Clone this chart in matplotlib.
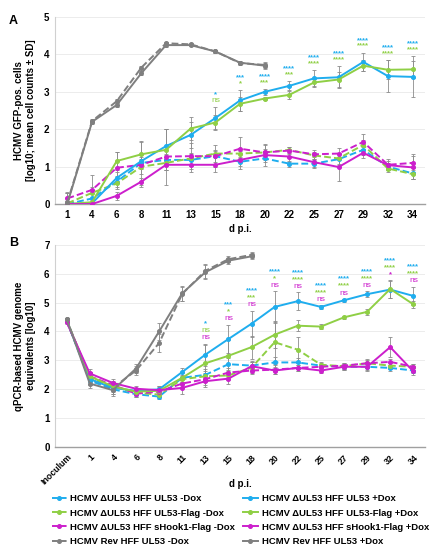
import numpy as np
import matplotlib
matplotlib.use('Agg')
import matplotlib.pyplot as plt
from matplotlib.lines import Line2D

plt.rcParams['font.family'] = ['Liberation Sans', 'DejaVu Sans']
plt.rcParams['font.weight'] = 'bold'

BLUE = '#1fadee'
GREEN = '#8fcf45'
MAGENTA = '#cc1fcc'
GRAY = '#7f7f7f'
ERR = '#8c8c8c'

# ---------------- panel A: GFP-positive cells ----------------
days_a = ['1', '4', '6', '8', '11', '13', '15', '18', '20', '22', '25', '27', '29', '32', '34']

a_blue_m = [0.00, 0.15, 0.60, 1.10, 1.18, 1.18, 1.28, 1.13, 1.22, 1.08, 1.08, 1.20, 1.45, 1.00, 0.82]
a_blue_m_sd = [0.05, 0.15, 0.15, 0.15, 0.15, 0.15, 0.15, 0.12, 0.10, 0.08, 0.10, 0.15, 0.15, 0.10, 0.15]
a_blue_p = [0.00, 0.02, 0.70, 1.15, 1.55, 1.85, 2.30, 2.77, 3.00, 3.16, 3.36, 3.39, 3.80, 3.42, 3.40]
a_blue_p_sd = [0.05, 0.10, 0.15, 0.15, 0.45, 0.35, 0.30, 0.28, 0.08, 0.12, 0.22, 0.30, 0.25, 0.42, 0.55]
a_green_m = [0.02, 0.30, 0.55, 1.00, 1.10, 1.22, 1.35, 1.35, 1.38, 1.45, 1.30, 1.22, 1.58, 0.95, 0.80]
a_green_m_sd = [0.05, 0.15, 0.15, 0.20, 0.20, 0.15, 0.10, 0.12, 0.10, 0.08, 0.10, 0.15, 0.12, 0.10, 0.12]
a_green_p = [0.00, 0.05, 1.15, 1.33, 1.45, 2.02, 2.18, 2.68, 2.82, 2.92, 3.25, 3.33, 3.70, 3.59, 3.60]
a_green_p_sd = [0.05, 0.10, 0.25, 0.35, 0.55, 0.32, 0.20, 0.18, 0.05, 0.10, 0.10, 0.20, 0.15, 0.25, 0.22]
a_mag_m = [0.15, 0.38, 0.97, 1.05, 1.27, 1.28, 1.28, 1.48, 1.38, 1.43, 1.33, 1.35, 1.66, 1.05, 1.10]
a_mag_m_sd = [0.15, 0.40, 0.42, 0.60, 0.75, 0.35, 0.30, 0.30, 0.20, 0.10, 0.12, 0.15, 0.20, 0.15, 0.25]
a_mag_p = [0.00, 0.00, 0.22, 0.60, 1.05, 1.05, 1.05, 1.18, 1.31, 1.27, 1.12, 0.99, 1.37, 1.04, 0.98]
a_mag_p_sd = [0.02, 0.02, 0.10, 0.10, 0.15, 0.20, 0.20, 0.25, 0.30, 0.15, 0.15, 0.38, 0.15, 0.12, 0.30]
a_gray_m = [0.05, 2.22, 2.75, 3.65, 4.30, 4.27, 4.08, 3.77, 3.72]
a_gray_p = [0.02, 2.20, 2.65, 3.50, 4.25, 4.25, 4.08, 3.78, 3.70]
a_gray_sd = [0.28, 0.05, 0.06, 0.05, 0.04, 0.03, 0.03, 0.04, 0.08]

# significance labels, from day 15 on (blue row, green row)
sig_a_blue = ['*', '***', '****', '****', '****', '****', '****', '****', '****']
sig_a_green = ['ns', '*', '***', '***', '****', '****', '****', '****', '****']

# ---------------- panel B: qPCR genome equivalents ----------------
days_b = ['Inoculum', '1', '4', '6', '8', '11', '13', '15', '18', '20', '22', '25', '27', '29', '32', '34']

b_blue_m = [4.38, 2.30, 2.00, 1.83, 1.75, 2.40, 2.50, 2.87, 2.82, 2.93, 2.93, 2.82, 2.78, 2.78, 2.74, 2.65]
b_blue_m_sd = [0.05, 0.15, 0.15, 0.10, 0.10, 0.15, 0.20, 0.20, 0.15, 0.20, 0.15, 0.10, 0.10, 0.10, 0.10, 0.08]
b_blue_p = [4.38, 2.35, 2.05, 1.95, 2.00, 2.60, 3.20, 3.74, 4.27, 4.85, 5.05, 4.85, 5.08, 5.29, 5.45, 5.23]
b_blue_p_sd = [0.05, 0.15, 0.15, 0.10, 0.10, 0.15, 0.38, 0.50, 0.45, 0.55, 0.30, 0.06, 0.05, 0.10, 0.30, 0.32]
b_green_m = [4.38, 2.40, 2.10, 1.88, 1.82, 2.35, 2.45, 2.48, 2.75, 3.63, 3.37, 2.85, 2.80, 2.90, 2.82, 2.78]
b_green_m_sd = [0.05, 0.15, 0.15, 0.10, 0.10, 0.15, 0.20, 0.15, 0.20, 0.75, 0.45, 0.10, 0.10, 0.10, 0.10, 0.10]
b_green_p = [4.38, 2.45, 2.10, 1.92, 1.95, 2.40, 2.90, 3.16, 3.46, 3.89, 4.20, 4.17, 4.49, 4.68, 5.47, 4.94]
b_green_p_sd = [0.05, 0.15, 0.15, 0.10, 0.15, 0.20, 0.65, 0.55, 0.40, 0.45, 0.20, 0.10, 0.06, 0.10, 0.30, 0.12]
b_mag_m = [4.35, 2.45, 2.15, 1.85, 1.92, 2.20, 2.35, 2.58, 2.65, 2.68, 2.74, 2.78, 2.82, 2.90, 2.95, 2.78]
b_mag_m_sd = [0.05, 0.15, 0.15, 0.10, 0.10, 0.15, 0.20, 0.15, 0.12, 0.15, 0.10, 0.10, 0.10, 0.15, 0.10, 0.10]
b_mag_p = [4.32, 2.55, 2.22, 2.02, 1.97, 2.05, 2.28, 2.37, 2.80, 2.65, 2.74, 2.65, 2.78, 2.78, 3.46, 2.62]
b_mag_p_sd = [0.05, 0.15, 0.15, 0.10, 0.10, 0.20, 0.20, 0.20, 0.15, 0.12, 0.10, 0.10, 0.10, 0.15, 0.35, 0.12]
b_gray_m = [4.42, 2.35, 2.05, 2.65, 3.60, 5.30, 6.10, 6.50, 6.65]
b_gray_p = [4.43, 2.20, 1.97, 2.72, 4.00, 5.32, 6.05, 6.45, 6.60]
b_gray_sd = [0.05, 0.15, 0.20, 0.15, 0.30, 0.25, 0.25, 0.10, 0.10]

# significance labels, from day 13 on (blue, green, magenta rows)
sig_b_blue = ['*', '***', '****', '****', '****', '****', '****', '****', '****', '****']
sig_b_green = ['ns', '*', '***', '*', '****', '****', '****', '****', '****', '****']
sig_b_mag = ['ns', 'ns', 'ns', 'ns', 'ns', 'ns', 'ns', 'ns', '*', 'ns']

legend_labels = [
    'HCMV \u0394UL53 HFF UL53 -Dox', 'HCMV \u0394UL53 HFF UL53-Flag -Dox',
    'HCMV \u0394UL53 HFF sHook1-Flag -Dox', 'HCMV Rev HFF UL53 -Dox',
    'HCMV \u0394UL53 HFF UL53 +Dox', 'HCMV \u0394UL53 HFF UL53-Flag +Dox',
    'HCMV \u0394UL53 HFF sHook1-Flag +Dox', 'HCMV Rev HFF UL53 +Dox',
]


def draw_series(ax, x, y, sd, color, dashed):
    ax.errorbar(x, y, yerr=sd, fmt='none', ecolor=ERR, elinewidth=0.6,
                capsize=1.6, capthick=0.6, zorder=2)
    ax.plot(x, y, color=color, lw=1.4, ls=(0, (3.5, 1.6)) if dashed else '-',
            marker='o', ms=2.6, zorder=3)


def style_axes(ax, ymax, xsize=7):
    ax.set_ylim(0, ymax)
    ax.set_yticks(range(0, ymax + 1))
    ax.grid(axis='y', color='#ececec', lw=0.7)
    ax.set_axisbelow(True)
    for s in ('top', 'right'):
        ax.spines[s].set_visible(False)
    ax.spines['left'].set_color('#d0d0d0')
    ax.spines['bottom'].set_color('#a0a0a0')
    ax.spines['bottom'].set_linewidth(1.0)
    ax.tick_params(length=0, labelsize=7, pad=4)
    ax.tick_params(axis='x', labelsize=xsize)
    for lab in ax.get_yticklabels() + ax.get_xticklabels():
        lab.set_fontweight('bold')


def add_sig(ax, start, rows, tops, colors, step):
    for i in range(len(rows[0])):
        xi = start + i
        for k, (row, col) in enumerate(zip(rows[::-1], colors[::-1])):
            ax.annotate(row[i], (xi, tops[i]), xytext=(0, k * step),
                        textcoords='offset points', ha='center', va='bottom',
                        color=col, fontsize=6 if row[i] == 'ns' else 5.5,
                        fontweight='normal' if row[i] == 'ns' else 'bold')


fig = plt.figure(figsize=(4.34, 5.5), dpi=100)
ax_a = fig.add_axes([0.127, 0.629, 0.852, 0.34])
ax_b = fig.add_axes([0.127, 0.187, 0.852, 0.368])

# panel A
xa = np.arange(len(days_a))
ng = len(a_gray_m)
draw_series(ax_a, xa, a_blue_m, a_blue_m_sd, BLUE, True)
draw_series(ax_a, xa, a_green_m, a_green_m_sd, GREEN, True)
draw_series(ax_a, xa, a_mag_m, a_mag_m_sd, MAGENTA, True)
draw_series(ax_a, xa[:ng], a_gray_m, a_gray_sd, GRAY, True)
draw_series(ax_a, xa, a_blue_p, a_blue_p_sd, BLUE, False)
draw_series(ax_a, xa, a_green_p, a_green_p_sd, GREEN, False)
draw_series(ax_a, xa, a_mag_p, a_mag_p_sd, MAGENTA, False)
draw_series(ax_a, xa[:ng], a_gray_p, a_gray_sd, GRAY, False)
ax_a.set_xlim(-0.5, len(days_a) - 0.5)
ax_a.set_xticks(xa)
ax_a.set_xticklabels(days_a)
style_axes(ax_a, 5)
ax_a.set_xlabel('d p.i.', fontsize=7, fontweight='bold', labelpad=3)
ax_a.set_ylabel('HCMV GFP-pos. cells\n[log10; mean cell counts \u00b1 SD]',
                fontsize=7, fontweight='bold', labelpad=6)

s0 = days_a.index('15')
tops_a = [max(a_blue_p[j] + a_blue_p_sd[j], a_green_p[j] + a_green_p_sd[j]) + 0.08
          for j in range(s0, len(days_a))]
add_sig(ax_a, s0, [sig_a_blue, sig_a_green], tops_a, [BLUE, GREEN], 4.2)

# panel B
xb = np.arange(len(days_b))
ng = len(b_gray_m)
draw_series(ax_b, xb, b_blue_m, b_blue_m_sd, BLUE, True)
draw_series(ax_b, xb, b_green_m, b_green_m_sd, GREEN, True)
draw_series(ax_b, xb, b_mag_m, b_mag_m_sd, MAGENTA, True)
draw_series(ax_b, xb[:ng], b_gray_m, b_gray_sd, GRAY, True)
draw_series(ax_b, xb, b_blue_p, b_blue_p_sd, BLUE, False)
draw_series(ax_b, xb, b_green_p, b_green_p_sd, GREEN, False)
draw_series(ax_b, xb, b_mag_p, b_mag_p_sd, MAGENTA, False)
draw_series(ax_b, xb[:ng], b_gray_p, b_gray_sd, GRAY, False)
ax_b.set_xlim(-0.5, len(days_b) - 0.5)
ax_b.set_xticks(xb)
ax_b.set_xticklabels(days_b, rotation=45, ha='right', rotation_mode='anchor')
style_axes(ax_b, 7, xsize=6.3)
ax_b.set_xlabel('d p.i.', fontsize=7, fontweight='bold', va='center')
ax_b.xaxis.set_label_coords(0.5, -0.183)
ax_b.set_ylabel('qPCR-based HCMV genome\nequivalents [log10]',
                fontsize=7, fontweight='bold', labelpad=6)

s0 = days_b.index('13')
tops_b = [max(b_blue_p[j] + b_blue_p_sd[j], b_green_p[j] + b_green_p_sd[j]) + 0.08
          for j in range(s0, len(days_b))]
add_sig(ax_b, s0, [sig_b_blue, sig_b_green, sig_b_mag], tops_b,
        [BLUE, GREEN, MAGENTA], 5.0)

fig.text(0.02, 0.972, 'A', fontsize=9, fontweight='bold', va='top')
fig.text(0.02, 0.57, 'B', fontsize=9, fontweight='bold', va='top')

# legend
colors = [BLUE, GREEN, MAGENTA, GRAY] * 2
styles = [(0, (3, 1.5))] * 4 + ['-'] * 4
handles = [Line2D([], [], color=c, ls=s, lw=1.4, marker='o', ms=2.6)
           for c, s in zip(colors, styles)]
fig.legend(handles, legend_labels, ncol=2, loc='upper left',
           bbox_to_anchor=(0.11, 0.108), frameon=False,
           prop={'size': 6.8, 'weight': 'bold'}, handlelength=1.6,
           handletextpad=0.4, columnspacing=0.8, labelspacing=0.55,
           borderaxespad=0)

fig.savefig('out.png', dpi=100)
